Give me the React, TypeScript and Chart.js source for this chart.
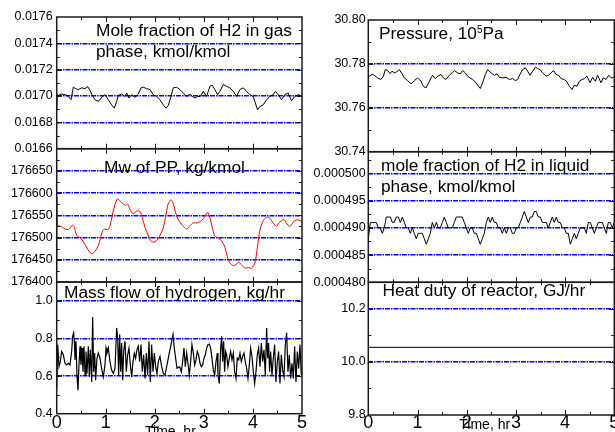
import React, { useEffect, useRef } from 'react';
import { Chart, registerables } from 'chart.js';

Chart.register(...registerables);

// ---------------- data ----------------
const timeTicks = [0, 1, 2, 3, 4, 5];

const h2GasTicks = [0.0166, 0.0168, 0.017, 0.0172, 0.0174, 0.0176];
const h2GasTime = [0, 0.01, 0.034, 0.102, 0.17, 0.238, 0.292, 0.339, 0.387, 0.441, 0.509, 0.577, 0.631, 0.679, 0.726, 0.781, 0.849, 0.917, 0.984, 1.052, 1.12, 1.174, 1.222, 1.256, 1.324, 1.392, 1.426, 1.473, 1.527, 1.595, 1.663, 1.718, 1.765, 1.833, 1.901, 1.969, 2.037, 2.105, 2.172, 2.227, 2.274, 2.329, 2.376, 2.444, 2.512, 2.58, 2.648, 2.716, 2.763, 2.817, 2.872, 2.926, 2.987, 3.055, 3.123, 3.171, 3.225, 3.279, 3.327, 3.395, 3.462, 3.53, 3.598, 3.666, 3.734, 3.802, 3.87, 3.938, 4.005, 4.039, 4.094, 4.141, 4.209, 4.277, 4.345, 4.413, 4.46, 4.515, 4.583, 4.65, 4.718, 4.786, 4.854, 4.922, 5.0];
const h2GasValues = [0.01689, 0.01701, 0.017005, 0.017015, 0.01701, 0.016997, 0.016972, 0.017067, 0.017056, 0.017049, 0.017062, 0.017056, 0.017072, 0.017041, 0.017005, 0.016972, 0.016959, 0.01699, 0.01701, 0.016972, 0.016933, 0.016908, 0.016959, 0.017005, 0.017015, 0.016997, 0.017023, 0.016985, 0.01701, 0.01699, 0.017015, 0.017062, 0.017067, 0.017056, 0.017049, 0.01701, 0.016997, 0.016972, 0.016933, 0.016908, 0.016928, 0.016997, 0.017062, 0.017067, 0.017049, 0.017023, 0.016997, 0.017015, 0.016997, 0.016985, 0.016997, 0.016997, 0.017036, 0.016997, 0.017074, 0.017082, 0.017049, 0.01701, 0.017036, 0.017087, 0.017074, 0.017062, 0.017036, 0.016997, 0.017049, 0.017062, 0.017036, 0.01701, 0.016997, 0.016959, 0.016895, 0.016921, 0.016933, 0.016972, 0.016997, 0.01701, 0.017036, 0.01701, 0.016972, 0.01701, 0.017023, 0.016964, 0.016997, 0.01701, 0.017];

const mwTicks = [176400, 176450, 176500, 176550, 176600, 176650];
const mwTime = [0, 0.005, 0.02, 0.1, 0.17, 0.24, 0.27, 0.32, 0.36, 0.41, 0.48, 0.54, 0.61, 0.68, 0.73, 0.78, 0.85, 0.92, 0.97, 1.04, 1.09, 1.13, 1.19, 1.24, 1.29, 1.36, 1.41, 1.45, 1.49, 1.56, 1.63, 1.7, 1.74, 1.8, 1.87, 1.93, 1.99, 2.06, 2.12, 2.17, 2.22, 2.27, 2.33, 2.38, 2.42, 2.49, 2.56, 2.65, 2.72, 2.78, 2.87, 2.95, 3.02, 3.08, 3.12, 3.17, 3.22, 3.29, 3.36, 3.43, 3.48, 3.53, 3.6, 3.67, 3.71, 3.77, 3.84, 3.9, 3.97, 4.04, 4.09, 4.14, 4.21, 4.28, 4.34, 4.41, 4.48, 4.52, 4.58, 4.64, 4.68, 4.75, 4.8, 4.85, 4.92, 5.0];
const mwValues = [176430, 176590, 176528, 176525, 176519, 176518, 176521, 176528, 176523, 176504, 176499, 176491, 176478, 176466, 176464, 176469, 176482, 176510, 176519, 176518, 176527, 176549, 176575, 176587, 176583, 176575, 176573, 176575, 176564, 176553, 176560, 176558, 176546, 176523, 176504, 176491, 176490, 176496, 176508, 176521, 176546, 176575, 176585, 176575, 176557, 176538, 176528, 176519, 176527, 176533, 176533, 176538, 176548, 176557, 176546, 176523, 176504, 176499, 176493, 176478, 176456, 176443, 176437, 176441, 176444, 176439, 176431, 176433, 176431, 176443, 176478, 176516, 176538, 176546, 176544, 176533, 176525, 176531, 176538, 176540, 176533, 176525, 176531, 176538, 176540, 176536];

const flowTicks = [0.4, 0.6, 0.8, 1.0];
const flowTime = [0, 0.02, 0.047, 0.074, 0.101, 0.135, 0.169, 0.203, 0.237, 0.271, 0.305, 0.325, 0.346, 0.359, 0.373, 0.393, 0.414, 0.434, 0.454, 0.475, 0.495, 0.516, 0.536, 0.556, 0.577, 0.597, 0.617, 0.645, 0.665, 0.685, 0.713, 0.733, 0.753, 0.774, 0.794, 0.821, 0.848, 0.882, 0.916, 0.95, 0.984, 1.005, 1.025, 1.052, 1.086, 1.12, 1.154, 1.188, 1.222, 1.243, 1.263, 1.283, 1.304, 1.324, 1.344, 1.365, 1.392, 1.419, 1.446, 1.473, 1.501, 1.528, 1.555, 1.582, 1.609, 1.636, 1.664, 1.691, 1.718, 1.745, 1.772, 1.8, 1.827, 1.854, 1.881, 1.908, 1.935, 1.963, 1.99, 2.017, 2.044, 2.071, 2.105, 2.139, 2.173, 2.207, 2.241, 2.275, 2.309, 2.343, 2.37, 2.397, 2.424, 2.452,
  2.506, 2.54, 2.567, 2.594, 2.622, 2.649, 2.676, 2.703, 2.73, 2.757, 2.785, 2.812, 2.839, 2.866, 2.893, 2.921, 2.948, 2.975, 3.002, 3.029, 3.056, 3.084, 3.111, 3.138, 3.165, 3.192, 3.22, 3.247, 3.274, 3.287, 3.315, 3.342, 3.362, 3.382, 3.403, 3.423, 3.444, 3.464, 3.491, 3.518, 3.545, 3.573, 3.6, 3.627, 3.654, 3.681, 3.709, 3.736, 3.763, 3.79, 3.817, 3.844, 3.872, 3.899, 3.926, 3.953, 3.98, 4.008, 4.035, 4.062, 4.089, 4.116, 4.144, 4.171, 4.198, 4.225, 4.252, 4.279, 4.3, 4.32, 4.34, 4.361, 4.388, 4.415, 4.442, 4.469, 4.497, 4.524, 4.551, 4.578, 4.605, 4.633, 4.66, 4.687, 4.714, 4.741, 4.769, 4.796, 4.823, 4.85, 4.877, 4.905, 4.932, 4.959, 4.986, 5.0];
const flowValues = [0.53, 0.767, 0.65, 0.677, 0.731, 0.713, 0.668, 0.659, 0.668, 0.659, 0.731, 0.812, 0.83, 0.785, 0.686, 0.785, 0.596, 0.525, 0.659, 0.758, 0.659, 0.749, 0.623, 0.758, 0.605, 0.731, 0.614, 0.758, 0.596, 0.74, 0.569, 0.914, 0.623, 0.722, 0.578, 0.695, 0.722, 0.695, 0.641, 0.596, 0.659, 0.749, 0.722, 0.749, 0.677, 0.632, 0.614, 0.641, 0.856, 0.794, 0.605, 0.821, 0.623, 0.776, 0.578, 0.731, 0.785, 0.623, 0.713, 0.749, 0.659, 0.596, 0.677, 0.722, 0.695, 0.74, 0.758, 0.677, 0.767, 0.623, 0.713, 0.587, 0.722, 0.605, 0.785, 0.569, 0.767, 0.623, 0.722, 0.65, 0.614, 0.677, 0.704, 0.65, 0.614, 0.605, 0.65, 0.695, 0.74, 0.785, 0.821, 0.749, 0.695, 0.641,
  0.65, 0.623, 0.677, 0.749, 0.65, 0.722, 0.668, 0.605, 0.677, 0.767, 0.722, 0.659, 0.686, 0.731, 0.713, 0.668, 0.65, 0.659, 0.695, 0.713, 0.749, 0.767, 0.77, 0.749, 0.695, 0.632, 0.605, 0.677, 0.722, 0.605, 0.56, 0.749, 0.812, 0.677, 0.785, 0.623, 0.731, 0.713, 0.65, 0.695, 0.731, 0.686, 0.722, 0.623, 0.587, 0.695, 0.686, 0.722, 0.677, 0.704, 0.722, 0.677, 0.641, 0.587, 0.659, 0.749, 0.704, 0.623, 0.56, 0.623, 0.713, 0.749, 0.65, 0.776, 0.677, 0.74, 0.605, 0.856, 0.695, 0.776, 0.623, 0.731, 0.605, 0.695, 0.767, 0.569, 0.677, 0.731, 0.56, 0.713, 0.632, 0.596, 0.767, 0.83, 0.623, 0.713, 0.587, 0.668, 0.587, 0.758, 0.569, 0.731, 0.641, 0.767, 0.605, 0.65];

const pressureTicks = [30.74, 30.76, 30.78, 30.8];
const pressureTime = [0, 0.005, 0.021, 0.075, 0.123, 0.19, 0.258, 0.306, 0.346, 0.394, 0.441, 0.482, 0.529, 0.577, 0.631, 0.685, 0.732, 0.8, 0.868, 0.936, 1.003, 1.071, 1.118, 1.173, 1.227, 1.274, 1.308, 1.362, 1.41, 1.478, 1.525, 1.579, 1.647, 1.701, 1.749, 1.816, 1.871, 1.918, 1.972, 2.02, 2.067, 2.121, 2.175, 2.223, 2.277, 2.324, 2.379, 2.426, 2.494, 2.561, 2.616, 2.663, 2.731, 2.799, 2.866, 2.934, 2.988, 3.036, 3.083, 3.137, 3.192, 3.239, 3.286, 3.341, 3.395, 3.442, 3.49, 3.544, 3.612, 3.666, 3.713, 3.767, 3.815, 3.869, 3.916, 3.984, 4.039, 4.086, 4.14, 4.188, 4.242, 4.289, 4.343, 4.391, 4.445, 4.506, 4.56, 4.614, 4.662, 4.729, 4.777, 4.831, 4.886, 4.94, 5.0];
const pressureValues = [30.7685, 30.7745, 30.7744, 30.7752, 30.7748, 30.7736, 30.7729, 30.7744, 30.7774, 30.777, 30.7755, 30.7767, 30.7759, 30.7764, 30.7774, 30.7755, 30.7736, 30.7724, 30.7709, 30.7724, 30.7736, 30.7721, 30.7698, 30.7691, 30.7714, 30.7736, 30.7748, 30.7733, 30.7744, 30.7752, 30.7736, 30.7729, 30.7748, 30.7759, 30.777, 30.7759, 30.7755, 30.777, 30.7759, 30.7744, 30.7736, 30.7729, 30.7718, 30.7703, 30.7688, 30.7714, 30.7752, 30.7774, 30.7759, 30.7748, 30.7755, 30.7739, 30.7736, 30.7739, 30.7729, 30.7733, 30.7724, 30.7729, 30.7752, 30.7774, 30.7782, 30.7767, 30.7748, 30.7767, 30.7785, 30.7779, 30.7774, 30.7759, 30.7744, 30.7748, 30.7759, 30.777, 30.7752, 30.7748, 30.7733, 30.7729, 30.7718, 30.7698, 30.7683, 30.7703, 30.7698, 30.7721, 30.7729, 30.7733, 30.7744, 30.7714, 30.7739, 30.7721, 30.7748, 30.7714, 30.7736, 30.7729, 30.7748, 30.7736, 30.7739];

const h2LiqTicks = [0.00048, 0.000485, 0.00049, 0.000495, 0.0005];
const h2LiqValues = [0.000488, 0.000491, 0.000491, 0.000491, 0.000491, 0.00049, 0.00049, 0.000489, 0.00049, 0.000492,
  0.000492, 0.000492, 0.000491, 0.000491, 0.000492, 0.000492, 0.000491, 0.000492, 0.000491, 0.00049,
  0.00049, 0.000489, 0.00049, 0.000489, 0.000488, 0.000489, 0.000489, 0.000489, 0.000488, 0.000487,
  0.000488, 0.000489, 0.000491, 0.00049, 0.000491, 0.00049, 0.00049, 0.000491, 0.000492, 0.000491,
  0.00049, 0.00049, 0.00049, 0.000491, 0.000492, 0.000492, 0.000492, 0.000492, 0.000491, 0.00049,
  0.000489, 0.00049, 0.00049, 0.000489, 0.000489, 0.000488, 0.000487, 0.000488, 0.000489, 0.000491,
  0.000492, 0.000491, 0.000492, 0.000491, 0.000491, 0.00049, 0.00049, 0.000489, 0.00049, 0.000489,
  0.00049, 0.00049, 0.000489, 0.000489, 0.00049, 0.00049, 0.000491, 0.000492, 0.000493, 0.000492,
  0.000491, 0.000492, 0.000492, 0.000493, 0.000493, 0.000492, 0.000492, 0.000491, 0.000491, 0.000491,
  0.00049, 0.000491, 0.000492, 0.000491, 0.000492, 0.000491, 0.000491, 0.00049, 0.00049, 0.000489,
  0.000489, 0.000487, 0.000488, 0.000489, 0.000488, 0.000489, 0.00049, 0.00049, 0.00049, 0.000489,
  0.000491, 0.000491, 0.00049, 0.000489, 0.00049, 0.000491, 0.000491, 0.000491, 0.00049, 0.000489,
  0.000491, 0.000491, 0.00049, 0.000491];
const h2LiqTime = h2LiqValues.map((_, i) => (i * 5) / (h2LiqValues.length - 1));

const heatTicks = [9.8, 10.0, 10.2];
const heatTime = [0, 5];
const heatValues = [10.055, 10.055];

// ---------------- layout / style ----------------
const FONT = '"Liberation Sans", Arial, Helvetica, sans-serif';
const PAGE_W = 615;
const PAGE_H = 432;
const TITLE_SIZE = 17.3;
const GRID_BLUE = '#0000ff';

type TextItem = { text: string; x: number; y: number; size: number; sup?: string; after?: string };
type Panel = {
  key: string;
  area: { left: number; top: number; right: number; bottom: number };
  times: number[];
  values: number[];
  color: string;
  lineWidth: number;
  tension: number;
  yMin: number;
  yMax: number;
  yTicks: number[];
  decimals: number;
  labelPad: number;
  yAxisWidth: number;
  showX: boolean;
  xLabelPad: number;
  texts: TextItem[];
};

const panels: Panel[] = [
  {
    key: 'h2gas', area: { left: 56.7, top: 17, right: 302, bottom: 148.7 },
    times: h2GasTime, values: h2GasValues, color: '#000', lineWidth: 1, tension: 0,
    yMin: 0.0166, yMax: 0.0176, yTicks: h2GasTicks, decimals: 4, labelPad: 4, yAxisWidth: 56, showX: false, xLabelPad: 0,
    texts: [
      { text: 'Mole fraction of H2 in gas', x: 96, y: 35.5, size: TITLE_SIZE },
      { text: 'phase, kmol/kmol', x: 96, y: 56.5, size: TITLE_SIZE },
    ],
  },
  {
    key: 'mw', area: { left: 56.7, top: 148.7, right: 302, bottom: 282 },
    times: mwTime, values: mwValues, color: '#ff0000', lineWidth: 1, tension: 0.3,
    yMin: 176400, yMax: 176700, yTicks: mwTicks, decimals: 0, labelPad: 4, yAxisWidth: 56, showX: false, xLabelPad: 0,
    texts: [{ text: 'Mw of PP, kg/kmol', x: 104, y: 173.3, size: TITLE_SIZE }],
  },
  {
    key: 'flow', area: { left: 56.7, top: 282, right: 302, bottom: 413.7 },
    times: flowTime, values: flowValues, color: '#000', lineWidth: 1.2, tension: 0,
    yMin: 0.4, yMax: 1.1, yTicks: flowTicks, decimals: 1, labelPad: 4, yAxisWidth: 56, showX: true, xLabelPad: -1.5,
    texts: [
      { text: 'Mass flow of hydrogen, kg/hr', x: 64, y: 297.7, size: TITLE_SIZE },
      { text: 'Time, hr', x: 145, y: 435.7, size: 14 },
    ],
  },
  {
    key: 'pressure', area: { left: 368.3, top: 20, right: 614.3, bottom: 151.7 },
    times: pressureTime, values: pressureValues, color: '#000', lineWidth: 1, tension: 0,
    yMin: 30.74, yMax: 30.8, yTicks: pressureTicks, decimals: 2, labelPad: 2.6, yAxisWidth: 64, showX: false, xLabelPad: 0,
    texts: [{ text: 'Pressure, 10', x: 379, y: 39.3, size: TITLE_SIZE, sup: '5', after: 'Pa' }],
  },
  {
    key: 'h2liq', area: { left: 368.3, top: 151.7, right: 614.3, bottom: 282.3 },
    times: h2LiqTime, values: h2LiqValues, color: '#000', lineWidth: 1, tension: 0,
    yMin: 0.00048, yMax: 0.000504, yTicks: h2LiqTicks, decimals: 6, labelPad: 2.6, yAxisWidth: 64, showX: false, xLabelPad: 0,
    texts: [
      { text: 'mole fraction of H2 in liquid', x: 381, y: 170.7, size: TITLE_SIZE },
      { text: 'phase, kmol/kmol', x: 381, y: 192.4, size: TITLE_SIZE },
    ],
  },
  {
    key: 'heat', area: { left: 368.3, top: 282.3, right: 614.3, bottom: 415 },
    times: heatTime, values: heatValues, color: '#000', lineWidth: 1, tension: 0,
    yMin: 9.8, yMax: 10.3, yTicks: heatTicks, decimals: 1, labelPad: 2.6, yAxisWidth: 64, showX: true, xLabelPad: -2.5,
    texts: [
      { text: 'Heat duty of reactor, GJ/hr', x: 382.5, y: 296, size: TITLE_SIZE },
      { text: 'Time, hr', x: 459.3, y: 429.3, size: 14 },
    ],
  },
];

function tickSet(majors: number[], min: number, max: number) {
  const step = majors[1] - majors[0];
  const eps = step * 1e-6;
  const vals: number[] = [...majors];
  for (let i = 0; i < majors.length - 1; i++) vals.push((majors[i] + majors[i + 1]) / 2);
  const lo = majors[0] - step / 2;
  const hi = majors[majors.length - 1] + step / 2;
  if (lo >= min - eps) vals.push(lo);
  if (hi <= max + eps) vals.push(hi);
  vals.sort((a, b) => a - b);
  return vals;
}

function makeConfig(p: Panel): any {
  const yW = p.yAxisWidth;
  const xH = p.showX ? PAGE_H - p.area.bottom : 0;
  const yStep = p.yTicks[1] - p.yTicks[0];
  const isMajorY = (v: number) => p.yTicks.some((m) => Math.abs(m - v) < yStep * 1e-4);
  const isEdgeY = (v: number) => Math.abs(v - p.yMin) < yStep * 1e-4 || Math.abs(v - p.yMax) < yStep * 1e-4;
  const isMajorX = (v: number) => timeTicks.some((m) => Math.abs(m - v) < 1e-6);
  const xMin = timeTicks[0];
  const xMax = timeTicks[timeTicks.length - 1];

  const zeroPad = (s: any) => {
    s.paddingLeft = 0; s.paddingRight = 0; s.paddingTop = 0; s.paddingBottom = 0;
  };

  const decor = {
    id: 'decor_' + p.key,
    afterDraw(chart: any) {
      const { ctx, chartArea: a } = chart;
      const xs = chart.scales.x;
      const ys = chart.scales.y;
      ctx.save();
      ctx.strokeStyle = '#1a1a1a';
      ctx.lineWidth = 1;
      ctx.beginPath();
      for (const t of ys.ticks) {
        if (isEdgeY(t.value)) continue;
        const y = Math.round(ys.getPixelForValue(t.value)) + 0.5;
        const len = isMajorY(t.value) ? 5 : 3;
        ctx.moveTo(a.left, y); ctx.lineTo(a.left + len, y);
        ctx.moveTo(a.right, y); ctx.lineTo(a.right - len, y);
      }
      for (const t of xs.ticks) {
        if (t.value <= xMin || t.value >= xMax) continue;
        const x = Math.round(xs.getPixelForValue(t.value)) + 0.5;
        const len = isMajorX(t.value) ? 5 : 3;
        ctx.moveTo(x, a.bottom); ctx.lineTo(x, a.bottom - len);
        ctx.moveTo(x, a.top); ctx.lineTo(x, a.top + len);
      }
      ctx.stroke();
      ctx.lineWidth = 1.5;
      ctx.strokeRect(a.left, a.top, a.right - a.left, a.bottom - a.top);

      ctx.fillStyle = '#000';
      ctx.textAlign = 'left';
      ctx.textBaseline = 'alphabetic';
      for (const item of p.texts) {
        ctx.font = `${item.size}px ${FONT}`;
        ctx.fillText(item.text, item.x, item.y);
        if (item.sup) {
          let x = item.x + ctx.measureText(item.text).width;
          ctx.font = `10px ${FONT}`;
          ctx.fillText(item.sup, x, item.y - 6.5);
          x += ctx.measureText(item.sup).width;
          if (item.after) {
            ctx.font = `${item.size}px ${FONT}`;
            ctx.fillText(item.after, x, item.y);
          }
        }
      }
      ctx.restore();
    },
  };

  return {
    type: 'line',
    data: {
      datasets: [
        {
          data: p.times.map((t, i) => ({ x: t, y: p.values[i] })),
          borderColor: p.color,
          borderWidth: p.lineWidth,
          pointRadius: 0,
          tension: p.tension,
          fill: false,
        },
      ],
    },
    options: {
      animation: false,
      responsive: false,
      maintainAspectRatio: false,
      devicePixelRatio: 1,
      events: [],
      layout: {
        autoPadding: false,
        padding: {
          left: p.area.left - yW,
          top: p.area.top,
          right: PAGE_W - p.area.right,
          bottom: PAGE_H - p.area.bottom - xH,
        },
      },
      plugins: { legend: { display: false }, tooltip: { enabled: false }, title: { display: false } },
      scales: {
        x: {
          type: 'linear',
          min: xMin,
          max: xMax,
          afterBuildTicks: (s: any) => {
            s.ticks = tickSet(timeTicks, xMin, xMax).map((v) => ({ value: v }));
          },
          afterFit: (s: any) => { s.height = xH; zeroPad(s); },
          ticks: {
            display: p.showX,
            autoSkip: false,
            maxRotation: 0,
            minRotation: 0,
            padding: p.xLabelPad,
            color: '#000',
            font: { family: FONT, size: 18 },
            callback: (v: number) => (isMajorX(v) ? String(Math.round(v)) : ''),
          },
          grid: { display: false, drawTicks: false },
          border: { display: false },
        },
        y: {
          type: 'linear',
          min: p.yMin,
          max: p.yMax,
          afterBuildTicks: (s: any) => {
            s.ticks = tickSet(p.yTicks, p.yMin, p.yMax).map((v) => ({ value: v }));
          },
          afterFit: (s: any) => { s.width = yW; zeroPad(s); },
          ticks: {
            autoSkip: false,
            padding: p.labelPad,
            color: '#000',
            font: { family: FONT, size: 12.5 },
            callback: (v: number) => (isMajorY(v) ? Number(v).toFixed(p.decimals) : ''),
          },
          grid: {
            display: true,
            drawTicks: false,
            drawOnChartArea: true,
            lineWidth: (c: any) => {
              const v = c.tick ? c.tick.value : NaN;
              return isMajorY(v) && !isEdgeY(v) ? 1.4 : 0;
            },
            color: GRID_BLUE,
          },
          border: { display: false, dash: [5, 1, 1.5, 1] },
        },
      },
    },
    plugins: [decor],
  };
}

function PanelChart({ panel }: { panel: Panel }) {
  const ref = useRef<HTMLCanvasElement | null>(null);
  useEffect(() => {
    if (!ref.current) return;
    const chart = new Chart(ref.current, makeConfig(panel));
    return () => chart.destroy();
  }, [panel]);
  return (
    <canvas
      ref={ref}
      width={PAGE_W}
      height={PAGE_H}
      style={{ position: 'absolute', left: 0, top: 0, width: PAGE_W, height: PAGE_H }}
    />
  );
}

export default function App() {
  return (
    <div
      style={{
        position: 'fixed',
        left: 0,
        top: 0,
        width: PAGE_W,
        height: PAGE_H,
        background: '#fff',
        overflow: 'hidden',
      }}
    >
      {panels.map((p) => (
        <PanelChart key={p.key} panel={p} />
      ))}
    </div>
  );
}
